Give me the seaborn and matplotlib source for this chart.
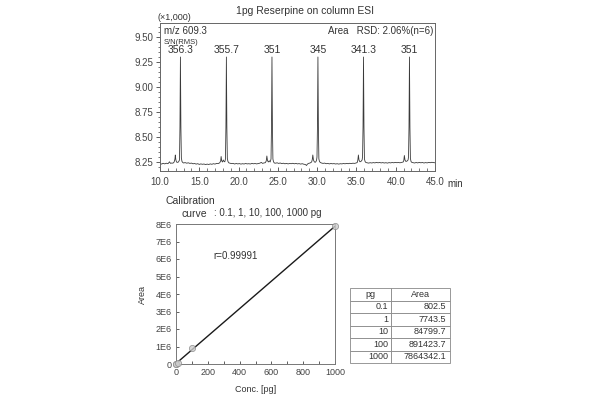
import numpy as np
import pandas as pd
import matplotlib
matplotlib.use("Agg")
import matplotlib.pyplot as plt
from matplotlib.ticker import MultipleLocator, FixedLocator, FixedFormatter
import seaborn as sns

# ---------------- data: chromatogram (m/z 609.3) ----------------
seg_a_t = [10.0, 10.2, 10.4, 10.6, 10.8, 11.0, 11.1, 11.2, 11.35, 11.5, 11.65, 11.8]
seg_a_v = [8.236, 8.229, 8.237, 8.231, 8.238, 8.233, 8.24, 8.252, 8.236, 8.24, 8.238, 8.25]
pk1_t = [11.9, 11.95, 12.02, 12.1, 12.2, 12.35, 12.48, 12.54, 12.6, 12.66, 12.72, 12.8, 12.9]
pk1_v = [8.28, 8.32, 8.27, 8.25, 8.246, 8.25, 8.27, 8.6, 9.30, 8.6, 8.29, 8.255, 8.245]
seg_b_t = [13.0, 13.2, 13.4, 13.6, 13.8, 14.0, 14.2, 14.4, 14.6, 14.8, 15.0, 15.2,
           15.4, 15.6, 15.8, 16.0, 16.2, 16.4, 16.6, 16.8, 17.0, 17.2, 17.4, 17.6]
seg_b_v = [8.24, 8.244, 8.238, 8.242, 8.236, 8.239, 8.232, 8.235, 8.229, 8.233, 8.226, 8.231,
           8.227, 8.23, 8.224, 8.229, 8.225, 8.231, 8.227, 8.233, 8.229, 8.236, 8.234, 8.242]
pk2_t = [17.72, 17.78, 17.85, 17.95, 18.05, 18.15, 18.25, 18.33, 18.39, 18.45, 18.51, 18.57, 18.65, 18.75]
pk2_v = [8.26, 8.305, 8.262, 8.25, 8.27, 8.255, 8.252, 8.28, 8.6, 9.30, 8.6, 8.285, 8.255, 8.242]
seg_c_t = [18.9, 19.1, 19.3, 19.5, 19.7, 19.9, 20.1, 20.3, 20.5, 20.7, 20.9, 21.1,
           21.3, 21.5, 21.7, 21.9, 22.1, 22.3, 22.5, 22.7, 22.9, 23.05, 23.2, 23.4]
seg_c_v = [8.238, 8.234, 8.236, 8.23, 8.235, 8.231, 8.234, 8.229, 8.233, 8.23, 8.235, 8.231,
           8.233, 8.23, 8.236, 8.232, 8.235, 8.231, 8.234, 8.238, 8.246, 8.236, 8.24, 8.243]
pk3_t = [23.52, 23.6, 23.68, 23.78, 23.9, 24.02, 24.13, 24.19, 24.25, 24.31, 24.37, 24.45, 24.55]
pk3_v = [8.26, 8.31, 8.265, 8.25, 8.262, 8.25, 8.28, 8.6, 9.30, 8.6, 8.28, 8.252, 8.24]
seg_d_t = [24.7, 24.9, 25.1, 25.3, 25.5, 25.7, 25.9, 26.1, 26.3, 26.5, 26.7, 26.9, 27.1,
           27.3, 27.5, 27.7, 27.9, 28.1, 28.3, 28.5, 28.65, 28.75, 28.9, 29.1, 29.3]
seg_d_v = [8.238, 8.242, 8.236, 8.24, 8.234, 8.238, 8.232, 8.236, 8.231, 8.235, 8.233, 8.237, 8.232,
           8.236, 8.231, 8.234, 8.229, 8.233, 8.228, 8.225, 8.215, 8.228, 8.236, 8.24, 8.25]
pk4_t = [29.38, 29.45, 29.53, 29.65, 29.8, 29.92, 29.98, 30.04, 30.1, 30.16, 30.22, 30.3, 30.4]
pk4_v = [8.275, 8.32, 8.27, 8.25, 8.248, 8.265, 8.3, 8.6, 9.30, 8.6, 8.28, 8.255, 8.245]
seg_e_t = [30.55, 30.75, 30.95, 31.15, 31.35, 31.55, 31.75, 31.95, 32.15, 32.35, 32.55, 32.75,
           32.95, 33.15, 33.35, 33.55, 33.75, 33.95, 34.15, 34.35, 34.55, 34.75, 34.95, 35.1]
seg_e_v = [8.24, 8.236, 8.239, 8.233, 8.236, 8.231, 8.235, 8.232, 8.234, 8.23, 8.233, 8.229,
           8.233, 8.231, 8.235, 8.232, 8.236, 8.233, 8.237, 8.234, 8.238, 8.236, 8.24, 8.245]
pk5_t = [35.18, 35.25, 35.33, 35.45, 35.58, 35.72, 35.78, 35.84, 35.9, 35.96, 36.02, 36.1, 36.2]
pk5_v = [8.27, 8.32, 8.268, 8.252, 8.256, 8.27, 8.3, 8.6, 9.30, 8.6, 8.28, 8.255, 8.245]
seg_f_t = [36.35, 36.55, 36.75, 36.95, 37.15, 37.35, 37.55, 37.75, 37.95, 38.15, 38.35, 38.55,
           38.75, 38.95, 39.15, 39.35, 39.55, 39.75, 39.95, 40.15, 40.35, 40.55, 40.75, 40.95]
seg_f_v = [8.242, 8.239, 8.243, 8.24, 8.244, 8.241, 8.246, 8.242, 8.245, 8.241, 8.244, 8.24,
           8.243, 8.239, 8.244, 8.241, 8.245, 8.242, 8.246, 8.243, 8.245, 8.242, 8.246, 8.25]
pk6_t = [41.03, 41.1, 41.18, 41.3, 41.45, 41.57, 41.63, 41.69, 41.75, 41.81, 41.87, 41.95, 42.05]
pk6_v = [8.265, 8.315, 8.27, 8.255, 8.26, 8.27, 8.3, 8.6, 9.30, 8.6, 8.285, 8.255, 8.246]
seg_g_t = [42.2, 42.4, 42.6, 42.8, 43.0, 43.2, 43.4, 43.6, 43.8, 44.0, 44.2, 44.4, 44.6, 44.8, 45.0]
seg_g_v = [8.243, 8.24, 8.245, 8.241, 8.246, 8.242, 8.245, 8.24, 8.244, 8.241, 8.246, 8.243, 8.247, 8.244, 8.242]

peak_times = [12.6, 18.45, 24.25, 30.1, 35.9, 41.75]
sn_values = ["356.3", "355.7", "351", "345", "341.3", "351"]
chrom_xticks = [10.0, 15.0, 20.0, 25.0, 30.0, 35.0, 40.0, 45.0]
chrom_xlabels = ["10.0", "15.0", "20.0", "25.0", "30.0", "35.0", "40.0", "45.0"]
chrom_yticks = [8.25, 8.50, 8.75, 9.00, 9.25, 9.50]
chrom_ylabels = ["8.25", "8.50", "8.75", "9.00", "9.25", "9.50"]

# ---------------- data: calibration ----------------
conc_pg = [0.1, 1, 10, 100, 1000]
area = [802.5, 7743.5, 84799.7, 891423.7, 7864342.1]
pg_labels = ["0.1", "1", "10", "100", "1000"]
area_labels = ["802.5", "7743.5", "84799.7", "891423.7", "7864342.1"]
cal_yticks = [0, 1e6, 2e6, 3e6, 4e6, 5e6, 6e6, 7e6, 8e6]
cal_ylabels = ["0", "1E6", "2E6", "3E6", "4E6", "5E6", "6E6", "7E6", "8E6"]
cal_xticks = [0, 200, 400, 600, 800, 1000]

# ---------------- build ----------------
times = (seg_a_t + pk1_t + seg_b_t + pk2_t + seg_c_t + pk3_t + seg_d_t + pk4_t
         + seg_e_t + pk5_t + seg_f_t + pk6_t + seg_g_t)
signal = (seg_a_v + pk1_v + seg_b_v + pk2_v + seg_c_v + pk3_v + seg_d_v + pk4_v
          + seg_e_v + pk5_v + seg_f_v + pk6_v + seg_g_v)
chrom = pd.DataFrame({"t": times, "v": signal})
cal = pd.DataFrame({"conc": conc_pg, "area": area})

sns.set_theme(style="white")
plt.rcParams["font.family"] = ["Liberation Sans", "DejaVu Sans"]
TXT = "#333333"
plt.rcParams["text.color"] = TXT

fig = plt.figure(figsize=(6, 4), dpi=100)
W, H = 600.0, 400.0


def fx(x):
    return x / W


def fy(y):
    return 1 - y / H


# top chromatogram axes
ax1 = fig.add_axes([fx(160), fy(171), 275 / W, 148 / H])
sns.lineplot(data=chrom, x="t", y="v", ax=ax1, color="#3a3a3a", lw=0.6,
             sort=False, estimator=None)
ax1.set_xlim(10, 45)
ax1.set_ylim(8.16, 9.64)
ax1.set_xlabel("")
ax1.set_ylabel("")
ax1.xaxis.set_major_locator(FixedLocator(chrom_xticks))
ax1.xaxis.set_major_formatter(FixedFormatter(chrom_xlabels))
ax1.yaxis.set_major_locator(FixedLocator(chrom_yticks))
ax1.yaxis.set_major_formatter(FixedFormatter(chrom_ylabels))
ax1.xaxis.set_minor_locator(MultipleLocator(1.0))
ax1.yaxis.set_minor_locator(MultipleLocator(0.05))
ax1.tick_params(axis="x", which="major", direction="in", length=3, width=0.6,
                labelsize=7, colors="#444", pad=4, bottom=True)
ax1.tick_params(axis="x", which="minor", direction="in", length=2, width=0.5,
                colors="#444", bottom=True)
ax1.tick_params(axis="y", which="major", direction="out", length=3, width=0.6,
                labelsize=7, colors="#444", pad=2, left=True)
ax1.tick_params(axis="y", which="minor", direction="out", length=1.5, width=0.5,
                colors="#444", left=True)
for s in ax1.spines.values():
    s.set_color("#666")
    s.set_linewidth(0.7)

for t, lab in zip(peak_times, sn_values):
    ax1.text(t, 9.37, lab, ha="center", va="center", fontsize=7.5, color=TXT)

fig.text(fx(305), fy(11), "1pg Reserpine on column ESI", ha="center", va="center",
         fontsize=7.5, color=TXT)
fig.text(fx(158), fy(17), "(\u00d71,000)", ha="left", va="center", fontsize=6.5, color=TXT)
fig.text(fx(164), fy(31), "m/z 609.3", ha="left", va="center", fontsize=7, color=TXT)
fig.text(fx(164), fy(42), "S/N(RMS)", ha="left", va="center", fontsize=5.5, color=TXT)
fig.text(fx(433), fy(31), "Area   RSD: 2.06%(n=6)", ha="right", va="center",
         fontsize=7, color=TXT)
fig.text(fx(447), fy(184), "min", ha="left", va="center", fontsize=7, color=TXT)

# bottom calibration axes
ax2 = fig.add_axes([fx(176), fy(364), 159 / W, 140 / H])
sns.regplot(data=cal, x="conc", y="area", ax=ax2, ci=None, truncate=True,
            scatter_kws=dict(s=20, color="#cccccc", edgecolors="#888888",
                             linewidths=0.6, zorder=3, clip_on=False),
            line_kws=dict(color="#1a1a1a", lw=1.0))
ax2.set_xlim(0, 1000)
ax2.set_ylim(0, 8e6)
ax2.xaxis.set_major_locator(FixedLocator(cal_xticks))
ax2.xaxis.set_minor_locator(MultipleLocator(100))
ax2.yaxis.set_major_locator(FixedLocator(cal_yticks))
ax2.yaxis.set_major_formatter(FixedFormatter(cal_ylabels))
ax2.tick_params(axis="both", which="major", direction="in", length=2.5, width=0.6,
                labelsize=6.5, colors="#444", bottom=True, left=True, pad=3)
ax2.tick_params(axis="x", which="minor", direction="in", length=2.5, width=0.6,
                colors="#444", bottom=True)
ax2.set_xlabel("Conc. [pg]", fontsize=6.5, color=TXT, labelpad=6)
ax2.set_ylabel("Area", fontsize=6.5, color=TXT, labelpad=6)
for s in ax2.spines.values():
    s.set_color("#777")
    s.set_linewidth(0.7)

fig.text(fx(165), fy(201), "Calibration", ha="left", va="center", fontsize=7.5, color=TXT)
fig.text(fx(181), fy(214), "curve", ha="left", va="center", fontsize=7.5, color=TXT)
fig.text(fx(214), fy(213), ": 0.1, 1, 10, 100, 1000 pg", ha="left", va="center",
         fontsize=7, color=TXT)
fig.text(fx(213), fy(256), "r=0.99991", ha="left", va="center", fontsize=7, color=TXT)

# table
axt = fig.add_axes([fx(350), fy(363), 100 / W, 75 / H])
axt.axis("off")
tbl = axt.table(cellText=[[p, a] for p, a in zip(pg_labels, area_labels)],
                colLabels=["pg", "Area"], cellLoc="right", colLoc="center",
                colWidths=[0.407, 0.593], bbox=[0, 0, 1, 1])
tbl.auto_set_font_size(False)
tbl.set_fontsize(6.5)
for (r, c), cell in tbl.get_celld().items():
    cell.set_edgecolor("#888888")
    cell.set_linewidth(0.6)
    cell.get_text().set_color(TXT)
    cell.PAD = 0.06

fig.savefig("out.png", dpi=100)
